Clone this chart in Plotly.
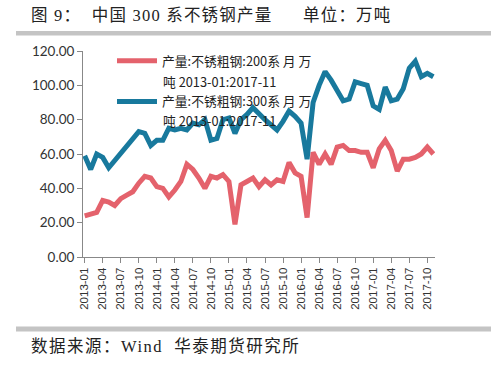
import plotly.graph_objects as go

months = [f"{y}-{m:02d}" for y in range(2013, 2018) for m in range(1, 13)][:59]

series_200 = [24, 25, 26, 33, 32, 30, 34, 36, 38, 43, 47, 46,
              41, 40, 35, 39, 44, 54, 51, 46, 40, 47, 46, 48,
              44, 19, 42, 44, 46, 41, 45, 42, 45, 44, 55, 49,
              47, 23, 61, 54, 60, 54, 64, 65, 62, 62, 61, 61,
              52, 63, 68, 62, 50, 57, 57, 58, 60, 64, 60]

series_300 = [59, 51, 60, 58, 52, 56, 61, 65, 68, 73, 72, 65,
              68, 68, 75, 74, 75, 74, 78, 77, 80, 68, 69, 80,
              81, 72, 80, 83, 87, 83, 80, 77, 74, 79, 85, 82,
              78, 57, 90, 100, 108, 103, 97, 91, 92, 102, 101, 100,
              88, 86, 99, 91, 92, 98, 110, 114, 105, 107, 105]

name_200 = "产量:不锈粗钢:200系 月 万"
name_300 = "产量:不锈粗钢:300系 月 万"
name_tail = "吨 2013-01:2017-11"
tick_labels = months[::3]

RED = "#E4626C"
BLUE = "#18799D"

fig = go.Figure()
fig.add_trace(go.Scatter(x=months, y=series_200, mode="lines", name=name_200,
                         legendgroup="s200",
                         line=dict(color=RED, width=5)))
fig.add_trace(go.Scatter(x=months, y=series_300, mode="lines", name=name_300,
                         legendgroup="s300",
                         line=dict(color=BLUE, width=5)))

L, R, T, B = 83, 69, 51, 113
W, H = 504, 370
pw, ph = W - L - R, H - T - B

def px(xp):
    return (xp - L) / pw

def py(yp):
    return (H - B - yp) / ph

SERIF = "Liberation Serif, Noto Sans CJK SC"
LEGFONT = dict(family="Noto Sans CJK SC", size=12.8, color="#222")

fig.update_layout(
    width=W, height=H,
    margin=dict(l=L, r=R, t=T, b=B, pad=0),
    paper_bgcolor="white", plot_bgcolor="white",
    showlegend=True,
    legend=dict(x=px(112), y=py(46), xanchor="left", yanchor="top",
                bgcolor="rgba(0,0,0,0)", traceorder="grouped",
                font=LEGFONT, tracegroupgap=21, itemwidth=40),
    xaxis=dict(type="category", range=[-0.28, 58.28],
               tickmode="array", tickvals=tick_labels, ticktext=tick_labels,
               tickangle=-90, ticks="outside", ticklen=5, tickcolor="#888",
               showline=True, linecolor="#888", linewidth=1,
               showgrid=False, zeroline=False,
               tickfont=dict(family="Liberation Sans", size=11.5, color="#333")),
    yaxis=dict(range=[0, 120], dtick=20, tickformat=".2f",
               ticks="outside", ticklen=5, tickcolor="#888",
               showline=True, linecolor="#888", linewidth=1,
               showgrid=False, zeroline=False,
               tickfont=dict(family="Lato", size=13.5, color="#333")),
    shapes=[
        dict(type="rect", xref="paper", yref="paper",
             x0=px(16), x1=px(491), y0=py(35.5), y1=py(31),
             fillcolor="#C4C4C4", line=dict(width=0)),
        dict(type="rect", xref="paper", yref="paper",
             x0=px(16), x1=px(491), y0=py(331.5), y1=py(326.5),
             fillcolor="#C4C4C4", line=dict(width=0)),
    ],
    annotations=[
        dict(text='<span style="letter-spacing:1.2px">图 9：  中国 300 系不锈钢产量</span>',
             xref="paper", yref="paper",
             x=px(29), y=py(15), xanchor="left", yanchor="middle", showarrow=False,
             font=dict(family=SERIF, size=16.5, color="#222")),
        dict(text='<span style="letter-spacing:1.2px">单位：万吨</span>',
             xref="paper", yref="paper",
             x=px(301), y=py(15), xanchor="left", yanchor="middle", showarrow=False,
             font=dict(family=SERIF, size=16.5, color="#222")),
        dict(text='<span style="letter-spacing:1.5px">数据来源：Wind  华泰期货研究所</span>',
             xref="paper", yref="paper",
             x=px(29), y=py(346), xanchor="left", yanchor="middle", showarrow=False,
             font=dict(family=SERIF, size=16.5, color="#222")),
        dict(text=name_tail, xref="paper", yref="paper",
             x=px(161), y=py(81), xanchor="left", yanchor="middle", showarrow=False,
             font=LEGFONT),
        dict(text=name_tail, xref="paper", yref="paper",
             x=px(161), y=py(121), xanchor="left", yanchor="middle", showarrow=False,
             font=LEGFONT),
    ],
)

fig.write_html("out.html", config={"displayModeBar": False},
               post_script="document.body.style.margin='0';")
